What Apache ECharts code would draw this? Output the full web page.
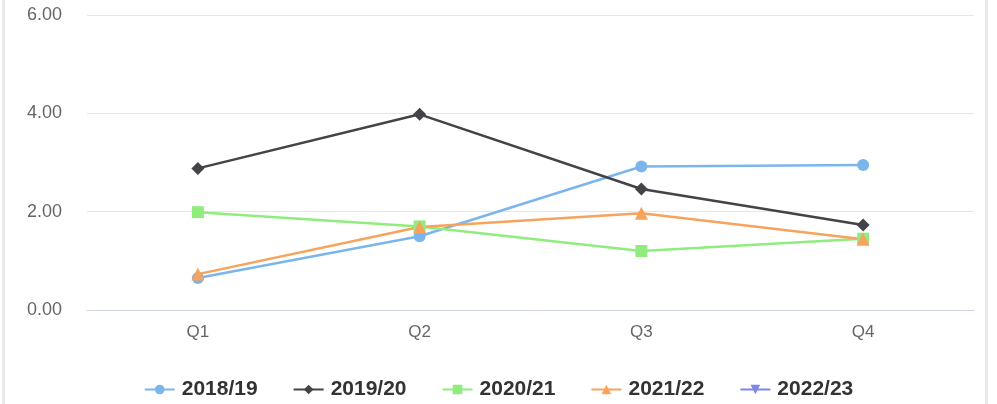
<!DOCTYPE html>
<html><head><meta charset="utf-8">
<script src="https://cdn.jsdelivr.net/npm/echarts@6/dist/echarts.min.js"></script>
<style>
html,body{margin:0;padding:0;background:#fff;}
#wrap{position:absolute;left:2px;top:0;width:980px;height:404px;border-left:3px solid #e9e9e9;border-right:3px solid #e9e9e9;}
#c{position:absolute;left:-5px;top:0;width:997px;height:404px;}
</style></head>
<body><div id="wrap"><div id="c"></div></div>
<script>
var categories = ['Q1','Q2','Q3','Q4'];
var seriesNames = ['2018/19','2019/20','2020/21','2021/22','2022/23'];
var s2018 = [0.65, 1.50, 2.92, 2.95];
var s2019 = [2.88, 3.98, 2.46, 1.73];
var s2020 = [1.99, 1.70, 1.20, 1.45];
var s2021 = [0.73, 1.69, 1.97, 1.44];
var s2022 = [];
var yTicks = [0, 2, 4, 6];

var colors = ['#7cb5ec','#434348','#90ed7d','#f7a35c','#8085e9'];
var symbols = ['circle','diamond','rect','triangle','path://M0,0 L10,0 L5,10 Z'];
var sizes = [12, 13, 12, 13, 12];
var data = [s2018, s2019, s2020, s2021, s2022];

var chart = echarts.init(document.getElementById('c'));
chart.setOption({
  animation:false,
  color: colors,
  grid:{left:87, right:23, top:15, bottom:94, containLabel:false},
  legend:{
    top:374, left:'center', itemWidth:30, itemHeight:12, itemGap:35,
    textStyle:{fontFamily:'Liberation Sans, Arial', fontSize:21, fontWeight:'bold', color:'#333', padding:[0,0,0,2]},
    data: seriesNames
  },
  xAxis:{
    type:'category', data:categories, boundaryGap:true,
    axisLine:{lineStyle:{color:'#d0d6e0', width:1}},
    axisTick:{show:false},
    axisLabel:{fontFamily:'Liberation Sans, Arial', fontSize:17, color:'#666', margin:14}
  },
  yAxis:{
    type:'value', min:yTicks[0], max:yTicks[yTicks.length-1], interval:2,
    axisLabel:{fontFamily:'Liberation Sans, Arial', fontSize:18, color:'#666', margin:25,
      formatter:function(v){return v.toFixed(2);}},
    splitLine:{lineStyle:{color:'#e6e6e6'}},
    axisLine:{show:false}, axisTick:{show:false}
  },
  series: seriesNames.map(function(n,i){
    return {name:n, type:'line', data:data[i], symbol:symbols[i], symbolSize:sizes[i],
      showSymbol:true, lineStyle:{width:2.5, color:colors[i]}, itemStyle:{color:colors[i]}};
  })
});
</script></body></html>
